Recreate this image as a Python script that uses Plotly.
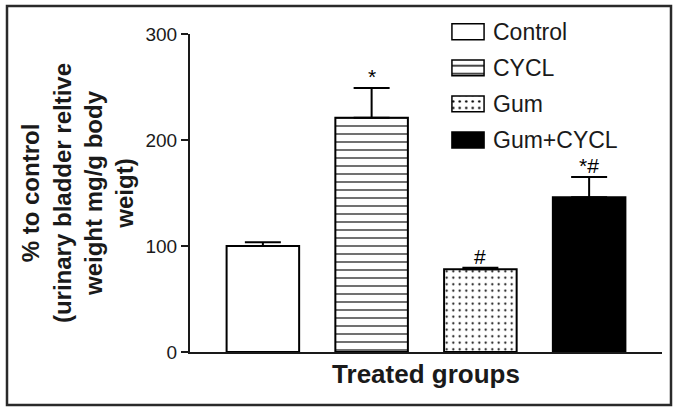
import plotly.graph_objects as go

# ---- data ----
groups = ["Control", "CYCL", "Gum", "Gum+CYCL"]
means = [100, 221, 78, 146]
sem = [3.5, 28, 1.5, 19]
signif = ["", "*", "#", "*#"]
fill_colors = ["white", "white", "white", "black"]
patterns = ["", "-", ".", ""]
y_ticks = [0, 100, 200, 300]
legend_len = [1, 1, 1, 1]

# ---- layout geometry (pixels) ----
W, H = 673, 408
L, R, T, B = 190, 11, 5, 56
pw, ph = W - L - R, H - T - B
axis_top_px = 34

def px_x(x):
    return (x - L) / pw

def px_y(y):
    return (H - B - y) / ph

FONT = "Liberation Sans, Arial, Helvetica, sans-serif"
INK = "#1a1a1a"
pat_size = {"-": 8, ".": 6.5}
pat_solid = {"-": 0.14, ".": 0.085}

fig = go.Figure()

for i, g in enumerate(groups):
    p = patterns[i]
    pat = dict(shape=p, fgcolor="black", bgcolor=fill_colors[i],
               size=pat_size[p], solidity=pat_solid[p],
               fillmode="replace") if p else None
    fig.add_trace(go.Bar(
        x=[g], y=[means[i]], width=0.667,
        marker=dict(color=fill_colors[i], line=dict(color="black", width=2),
                    pattern=pat),
        error_y=dict(type="data", symmetric=False, array=[sem[i]],
                     arrayminus=[0], width=18, thickness=2, color="black"),
        showlegend=False, xaxis="x", yaxis="y",
    ))
    # legend swatch on a small auxiliary axis
    pat2 = dict(shape=p, fgcolor="black", bgcolor=fill_colors[i],
                size=pat_size[p], solidity=pat_solid[p] * 1.3,
                fillmode="replace") if p else None
    fig.add_trace(go.Bar(
        y=[g], x=[legend_len[i]], orientation="h", width=0.44,
        marker=dict(color=fill_colors[i], line=dict(color="black", width=1.5),
                    pattern=pat2),
        showlegend=False, xaxis="x2", yaxis="y2", hoverinfo="skip",
    ))

for g, m, e, s in zip(groups, means, sem, signif):
    if s:
        fig.add_annotation(x=g, y=m + e, text=s, showarrow=False,
                           xref="x", yref="y", yanchor="bottom", yshift=-2,
                           font=dict(size=21, color="black", family=FONT))

fig.update_layout(
    width=W, height=H,
    margin=dict(l=L, r=R, t=T, b=B, autoexpand=False),
    paper_bgcolor="white", plot_bgcolor="white",
    font=dict(family=FONT, color=INK),
    barmode="overlay",
    xaxis=dict(domain=[0, 1], range=[-0.67, 3.67], showline=True,
               linecolor=INK, linewidth=2, ticks="", automargin=False,
               showticklabels=False, showgrid=False, zeroline=False,
               title=dict(text="<b>Treated groups</b>", standoff=12,
                          font=dict(size=26, color=INK))),
    yaxis=dict(domain=[0, px_y(axis_top_px)], range=[0, 300],
               tickvals=y_ticks, showline=True, linecolor=INK,
               linewidth=2, ticks="outside", ticklen=7, tickwidth=2,
               tickcolor=INK, showgrid=False, zeroline=False, automargin=False,
               tickfont=dict(size=19, color=INK),
               title=dict(text="<b>% to control<br>(urinary bladder reltive<br>"
                               "weight mg/g body<br>weigt)</b>",
                          standoff=5, font=dict(size=24, color=INK))),
    xaxis2=dict(domain=[px_x(450), px_x(486)], range=[-0.06, 1.06], anchor="y2",
                visible=False),
    yaxis2=dict(domain=[px_y(158), px_y(13.7)], anchor="x2", side="right",
                type="category", categoryorder="array", categoryarray=groups,
                autorange="reversed", showline=False, automargin=False,
                showgrid=False, zeroline=False, ticks="",
                ticklabelstandoff=6,
                tickfont=dict(size=23, color=INK)),
)

fig.add_shape(type="rect", xref="paper", yref="paper",
              x0=px_x(7), x1=px_x(671), y0=px_y(405), y1=px_y(6),
              line=dict(color="#2a2a2a", width=2.5), fillcolor="rgba(0,0,0,0)",
              layer="above")

fig.write_html("out.html",
               config={"displayModeBar": False},
               post_script="document.body.style.margin='0';")
